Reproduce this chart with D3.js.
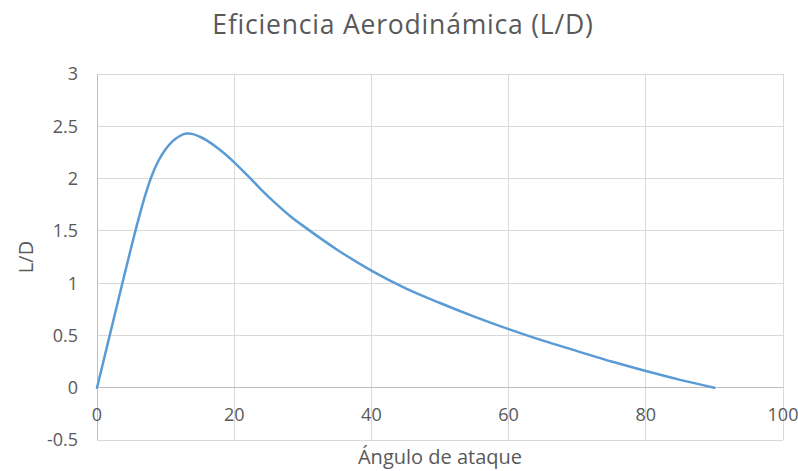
<!DOCTYPE html>
<html>
<head>
<meta charset="utf-8">
<script src="https://cdn.jsdelivr.net/npm/d3@7"></script>
<style>
  body { margin: 0; background: #fff; }
  text { fill: #595959; }
</style>
</head>
<body>
<div id="chart"></div>
<script>
// angle of attack (deg) and lift/drag ratio
const angulo = [0, 1, 2, 3, 4, 5, 6, 7, 8, 9, 10, 11, 12, 13, 14, 15, 16, 18, 20, 22, 24, 26, 28, 30, 35, 40, 45, 50, 55, 60, 65, 70, 75, 80, 85, 90];
const ld     = [0, 0.27, 0.54, 0.81, 1.08, 1.345, 1.60, 1.835, 2.03, 2.175, 2.28, 2.355, 2.405, 2.43, 2.425, 2.40, 2.365, 2.27, 2.155, 2.025, 1.89, 1.765, 1.65, 1.55, 1.32, 1.12, 0.95, 0.81, 0.68, 0.56, 0.45, 0.35, 0.25, 0.16, 0.075, 0];

const xTicks = [0, 20, 40, 60, 80, 100];
const yTicks = [-0.5, 0, 0.5, 1, 1.5, 2, 2.5, 3];

const titulo = 'Eficiencia Aerodinámica (L/D)';
const xTitulo = 'Ángulo de ataque';
const yTitulo = 'L/D';

const w = 798, h = 471;
const margin = {top: 74, right: 15, bottom: 31, left: 97};

const svg = d3.select('#chart').append('svg')
  .attr('width', w)
  .attr('height', h);

const x = d3.scaleLinear().domain([0, 100]).range([margin.left, w - margin.right]);
const y = d3.scaleLinear().domain([-0.5, 3]).range([h - margin.bottom, margin.top]);

const font = "'Open Sans', sans-serif";

// gridlines
svg.append('g')
  .selectAll('line')
  .data(yTicks)
  .join('line')
  .attr('x1', x(0)).attr('x2', x(100))
  .attr('y1', d => y(d)).attr('y2', d => y(d))
  .attr('stroke', '#d9d9d9').attr('stroke-width', 1)
  .attr('shape-rendering', 'crispEdges');

svg.append('g')
  .selectAll('line')
  .data(xTicks)
  .join('line')
  .attr('x1', d => x(d)).attr('x2', d => x(d))
  .attr('y1', y(3)).attr('y2', y(-0.5))
  .attr('stroke', '#d9d9d9').attr('stroke-width', 1)
  .attr('shape-rendering', 'crispEdges');

// axis lines (x axis crosses at 0)
svg.append('line')
  .attr('x1', x(0)).attr('x2', x(100))
  .attr('y1', y(0)).attr('y2', y(0))
  .attr('stroke', '#bfbfbf').attr('stroke-width', 1)
  .attr('shape-rendering', 'crispEdges');
svg.append('line')
  .attr('x1', x(0)).attr('x2', x(0))
  .attr('y1', y(3)).attr('y2', y(-0.5))
  .attr('stroke', '#bfbfbf').attr('stroke-width', 1)
  .attr('shape-rendering', 'crispEdges');

// tick labels
svg.append('g')
  .selectAll('text')
  .data(yTicks)
  .join('text')
  .attr('x', 78)
  .attr('y', d => y(d))
  .attr('dy', '0.36em')
  .attr('text-anchor', 'end')
  .style('font-family', font)
  .style('font-size', '18px')
  .text(d => d);

svg.append('g')
  .selectAll('text')
  .data(xTicks)
  .join('text')
  .attr('x', d => x(d))
  .attr('y', y(0) + 33)
  .attr('text-anchor', 'middle')
  .style('font-family', font)
  .style('font-size', '18px')
  .text(d => d);

// curve (smoothed like the original spreadsheet line)
const line = d3.line()
  .x(d => x(d[0]))
  .y(d => y(d[1]))
  .curve(d3.curveCatmullRom.alpha(0.5));

svg.append('path')
  .datum(d3.zip(angulo, ld))
  .attr('d', line)
  .attr('fill', 'none')
  .attr('stroke', '#5b9bd5')
  .attr('stroke-width', 2.5)
  .attr('stroke-linecap', 'round')
  .attr('stroke-linejoin', 'round');

// titles
svg.append('text')
  .attr('x', 403)
  .attr('y', 34)
  .attr('text-anchor', 'middle')
  .style('font-family', font)
  .style('font-size', '26.5px')
  .style('letter-spacing', '0.8px')
  .text(titulo);

svg.append('text')
  .attr('x', (x(0) + x(100)) / 2)
  .attr('y', 464)
  .attr('text-anchor', 'middle')
  .style('font-family', font)
  .style('font-size', '20px')
  .text(xTitulo);

svg.append('text')
  .attr('transform', `translate(33, ${(y(3) + y(-0.5)) / 2}) rotate(-90)`)
  .attr('text-anchor', 'middle')
  .style('font-family', font)
  .style('font-size', '20px')
  .text(yTitulo);
</script>
</body>
</html>
